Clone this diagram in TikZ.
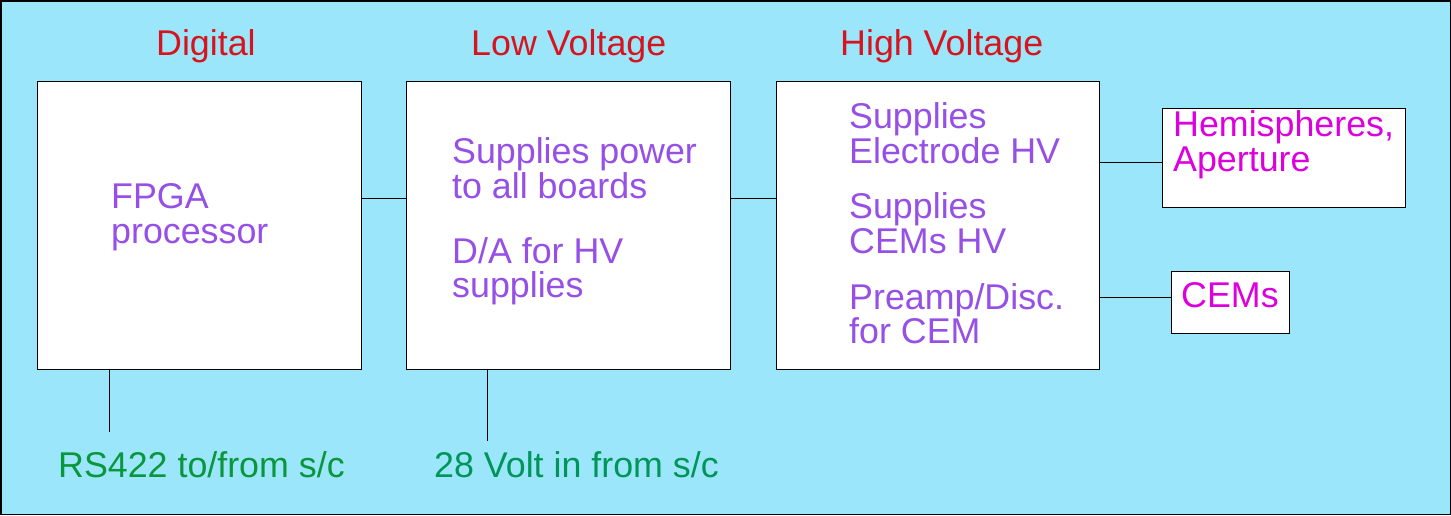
\documentclass[tikz,border=0pt]{standalone}
\usepackage{fontspec}
\setmainfont{Liberation Sans}
\definecolor{bg}{RGB}{155,230,250}
\definecolor{tred}{RGB}{215,20,30}
\definecolor{tpurple}{RGB}{150,80,230}
\definecolor{tmag}{RGB}{220,0,220}
\definecolor{tgreen}{RGB}{10,150,60}
\definecolor{tteal}{RGB}{0,150,90}
\tikzset{
  blk/.style={draw=black, line width=1.2pt, fill=white, anchor=north west, inner sep=0pt},
  txt/.style={anchor=base west, inner sep=0pt, font=\fontsize{35.8}{35.8}\selectfont},
  wire/.style={draw=black, line width=1pt},
}
\begin{document}
\begin{tikzpicture}[x=1pt,y=-1pt]
\fill[bg] (0,0) rectangle (1451,515);
\draw[line width=1.5pt] (0.75,0.75) rectangle (1450.25,514.25);
\useasboundingbox (0,0) rectangle (1451,515);
% boxes
\node[blk, minimum width=324pt, minimum height=288pt] (dig) at (37,81) {};
\node[blk, minimum width=324pt, minimum height=288pt] (lv) at (406,81) {};
\node[blk, minimum width=323pt, minimum height=288pt] (hv) at (776,81) {};
\node[blk, minimum width=243pt, minimum height=99pt] (hemi) at (1162,108) {};
\node[blk, minimum width=118pt, minimum height=62pt] (cems) at (1171,271) {};
% titles
\node[txt, text=tred] (t1) at (156,55) {Digital};
\node[txt, text=tred] (t2) at (471,55) {Low Voltage};
\node[txt, text=tred] (t3) at (840,55) {High Voltage};
% digital
\node[txt, text=tpurple] (d1) at (111,208) {FPGA};
\node[txt, text=tpurple] (d2) at (111,243) {processor};
% LV
\node[txt, text=tpurple] (l1) at (452,163) {Supplies power};
\node[txt, text=tpurple] (l2) at (452,198) {to all boards};
\node[txt, text=tpurple] (l3) at (452,263) {D/A for HV};
\node[txt, text=tpurple] (l4) at (452,297) {supplies};
% HV
\node[txt, text=tpurple] (h1) at (849,128) {Supplies};
\node[txt, text=tpurple] (h2) at (849,163) {Electrode HV};
\node[txt, text=tpurple] (h3) at (849,218) {Supplies};
\node[txt, text=tpurple] (h4) at (849,253) {CEMs HV};
\node[txt, text=tpurple] (h5) at (849,309) {Preamp/Disc.};
\node[txt, text=tpurple] (h6) at (849,343) {for CEM};
% right boxes text
\node[txt, text=tmag] (m1) at (1173,136) {Hemispheres,};
\node[txt, text=tmag] (m2) at (1173,171) {Aperture};
\node[txt, text=tmag] (m3) at (1181,307) {CEMs};
% bottom labels
\node[txt, text=tgreen] (b1) at (58,477) {RS422 to/from s/c};
\node[txt, text=tteal] (b2) at (434,477) {28 Volt in from s/c};
\coordinate (e1) at (109,432);
\coordinate (e2) at (487,441);
% connectors
\draw[wire] (dig.east |- 0,198) -- (lv.west |- 0,198);
\draw[wire] (lv.east |- 0,198) -- (hv.west |- 0,198);
\draw[wire] (hv.east |- 0,162) -- (hemi.west |- 0,162);
\draw[wire] (hv.east |- 0,297) -- (cems.west |- 0,297);
\draw[wire] (dig.south -| e1) -- (e1);
\draw[wire] (lv.south -| e2) -- (e2);
\end{tikzpicture}
\end{document}
